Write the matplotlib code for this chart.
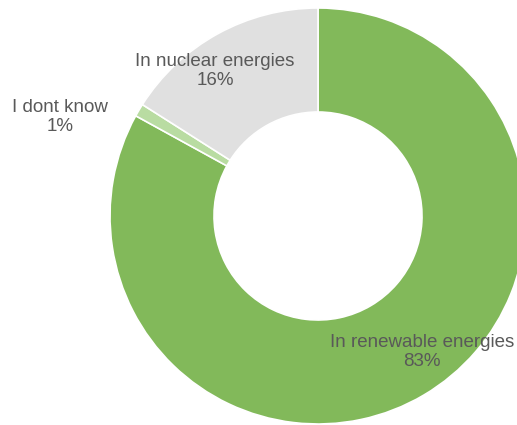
import matplotlib

matplotlib.use("Agg")
import matplotlib.pyplot as plt

categories = ["In renewable energies", "I dont know", "In nuclear energies"]
shares = [83, 1, 16]
colors = ["#82B95A", "#B9DCA2", "#E0E0E0"]

# label anchor points in pixel space (x, y from top)
label_pos = [(422, 352), (60, 117), (215, 71)]

W, H = 517, 425
fig = plt.figure(figsize=(W / 100, H / 100), dpi=100)
ax = fig.add_axes([0, 0, 1, 1])

cx, cy, r = 318, H - 216, 208
ax.pie(
    shares,
    colors=colors,
    startangle=90,
    counterclock=False,
    center=(cx, cy),
    radius=r,
    wedgeprops=dict(width=r * 0.5, edgecolor="white", linewidth=1.2),
    frame=True,
)
ax.set_xlim(0, W)
ax.set_ylim(0, H)
ax.axis("off")

for name, val, (lx, ly) in zip(categories, shares, label_pos):
    ax.text(
        lx,
        H - ly,
        f"{name}\n{val}%",
        ha="center",
        va="center",
        fontsize=13.5,
        color="#595959",
        family="Liberation Sans",
        linespacing=1.2,
    )

fig.savefig("out.png", dpi=100)
